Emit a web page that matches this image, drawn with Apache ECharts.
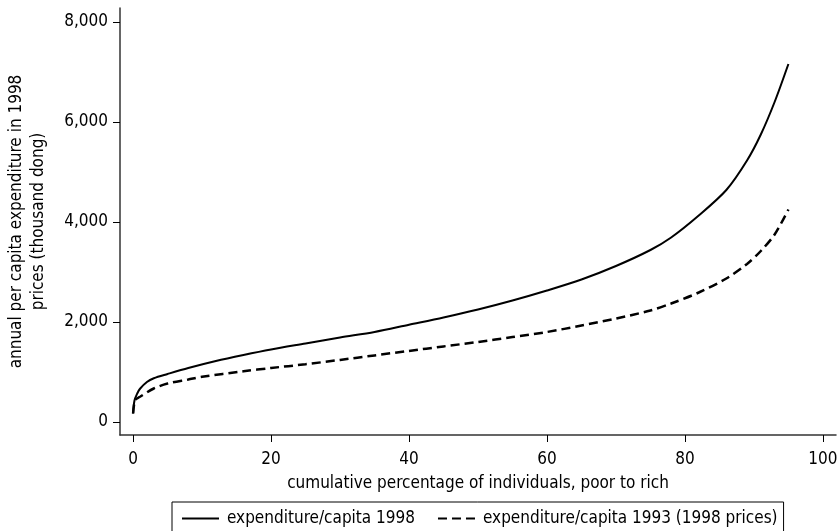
<!DOCTYPE html>
<html>
<head>
<meta charset="utf-8">
<script src="https://cdn.jsdelivr.net/npm/echarts@6/dist/echarts.min.js"></script>
<style>
html,body{margin:0;padding:0;background:#fff;}
#chart{width:837px;height:531px;}
</style>
</head>
<body>
<div id="chart"></div>
<script>
// cumulative percentage of individuals (x)
const pct1998 = [0, 0.2, 0.6, 1, 2, 3, 5, 8, 12, 16, 20, 25, 30, 35, 40, 45, 50, 55, 60, 65, 70, 75, 78, 82, 86, 89, 91, 93, 95];
const exp1998 = [170, 430, 570, 665, 800, 875, 960, 1080, 1220, 1340, 1450, 1570, 1690, 1800, 1945, 2090, 2250, 2430, 2630, 2850, 3120, 3440, 3690, 4130, 4640, 5230, 5750, 6400, 7160];
const pct1993 = [0, 0.3, 1, 3, 5, 8, 10, 16, 20, 25, 30, 35, 40, 45, 50, 55, 60, 65, 70, 75, 78, 82, 86, 89, 91, 93, 95];
const exp1993 = [170, 440, 505, 670, 770, 850, 905, 1015, 1080, 1155, 1242, 1332, 1422, 1512, 1600, 1700, 1800, 1930, 2070, 2230, 2370, 2590, 2870, 3160, 3420, 3750, 4250];
const xTicks = [0, 20, 40, 60, 80, 100];
const yTicks = [0, 2000, 4000, 6000, 8000];
const seriesNames = ['expenditure/capita 1998', 'expenditure/capita 1993 (1998 prices)'];

const FONT = "'Liberation Sans Narrow', 'DejaVu Sans Condensed', 'Arial Narrow', sans-serif";
const FS = 17;
const chart = echarts.init(document.getElementById('chart'), null, {renderer: 'canvas'});
const zip = (xs, ys) => xs.map((x, i) => [x, ys[i]]);

chart.setOption({
  animation: false,
  backgroundColor: '#fff',
  textStyle: {fontFamily: FONT, color: '#000'},
  grid: {left: 120, right: 1, top: 8, bottom: 96, containLabel: false, outerBoundsMode: 'none'},
  xAxis: {
    type: 'value',
    min: -1.9, max: 101.9,
    name: 'cumulative percentage of individuals, poor to rich',
    nameLocation: 'middle',
    nameGap: 40,
    nameTextStyle: {fontFamily: FONT, fontSize: FS, color: '#000'},
    axisLine: {show: true, onZero: false, lineStyle: {color: '#333', width: 1.5}},
    axisTick: {show: true, length: 7, inside: false, customValues: xTicks, lineStyle: {color: '#000', width: 1}},
    axisLabel: {customValues: xTicks, fontFamily: FONT, fontSize: FS, color: '#000', margin: 16},
    splitLine: {show: false}
  },
  yAxis: {
    type: 'value',
    min: -260, max: 8280,
    name: 'annual per capita expenditure in 1998\nprices (thousand dong)',
    nameLocation: 'middle',
    nameRotate: 90,
    nameGap: 70,
    nameTextStyle: {fontFamily: FONT, fontSize: FS, lineHeight: 22, color: '#000', align: 'center'},
    axisLine: {show: true, onZero: false, lineStyle: {color: '#333', width: 1.5}},
    axisTick: {show: true, length: 7, inside: false, customValues: yTicks, lineStyle: {color: '#000', width: 1}},
    axisLabel: {
      customValues: yTicks, fontFamily: FONT, fontSize: FS, color: '#000', margin: 12,
      formatter: v => v.toLocaleString('en-US')
    },
    splitLine: {show: false}
  },
  legend: {
    left: 172, top: 502, width: 640,
    orient: 'horizontal',
    padding: [8, 6, 8, 9],
    itemWidth: 37, itemHeight: 14, itemGap: 22,
    borderColor: '#000', borderWidth: 1, borderRadius: 0,
    itemStyle: {opacity: 0},
    textStyle: {fontFamily: FONT, fontSize: FS, color: '#000', padding: [0, 0, 0, 3]},
    data: seriesNames
  },
  series: [
    {
      name: seriesNames[0], type: 'line', data: zip(pct1998, exp1998),
      symbol: 'none', smooth: 0.3,
      lineStyle: {color: '#000', width: 2, type: 'solid'},
      itemStyle: {color: '#000'}
    },
    {
      name: seriesNames[1], type: 'line', data: zip(pct1993, exp1993),
      symbol: 'none', smooth: 0.3,
      lineStyle: {color: '#000', width: 2.5, type: [9, 5]},
      itemStyle: {color: '#000'}
    }
  ]
});
</script>
</body>
</html>
